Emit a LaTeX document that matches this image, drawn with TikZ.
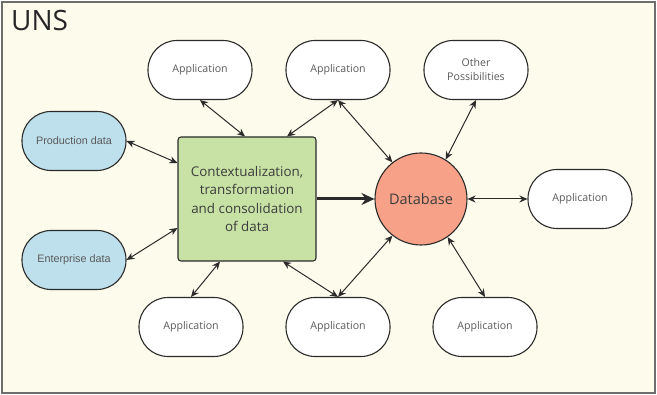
\documentclass[tikz,border=0pt]{standalone}
\usepackage{fontspec}
\setmainfont{Open Sans}
\newfontfamily\arialish{Liberation Sans}
\usetikzlibrary{arrows.meta}
\definecolor{bgcream}{HTML}{FDFBEB}
\definecolor{framegray}{HTML}{6E6E6E}
\definecolor{edgedark}{HTML}{2B2B2B}
\definecolor{bluefill}{HTML}{BEE0EC}
\definecolor{greenfill}{HTML}{C8E2A6}
\definecolor{salmon}{HTML}{F7A189}
\definecolor{labelgray}{HTML}{5A5A5A}
\definecolor{labeldark}{HTML}{3C3C3C}
\tikzset{
  pill/.style={draw=edgedark, line width=1.1pt, fill=white, rounded corners=29pt,
    minimum width=104pt, minimum height=59pt, inner sep=0pt, align=center,
    text=labelgray, font=\fontsize{10.6}{14}\selectfont},
  datapill/.style={pill, fill=bluefill, font=\arialish\fontsize{10.8}{13}\selectfont},
  link/.style={draw=edgedark, line width=1pt,
    {Stealth[length=8pt,width=7pt]}-{Stealth[length=8pt,width=7pt]}},
  bigarrow/.style={draw=edgedark, line width=3pt, -{Stealth[length=13pt,width=12pt]}}
}
\begin{document}
\begin{tikzpicture}[x=1pt,y=-1pt]
  % canvas and frame
  \path[fill=white] (0,0) rectangle (657,395);
  \useasboundingbox (0,0) rectangle (657,395);
  \draw[framegray, line width=1.3pt, fill=bgcream] (2,2) rectangle (655,393);
  \node[anchor=north west, inner sep=0pt, text=black!85, font=\fontsize{28}{30}\selectfont] (title) at (11,10) {UNS};

  % central processing block and database
  \node[draw=edgedark, line width=1.1pt, fill=greenfill, rounded corners=3pt,
        minimum width=138pt, minimum height=124pt, inner sep=0pt, align=center,
        text=labeldark, font=\fontsize{13.4}{18.3}\selectfont] (ctx) at (247,199)
        {Contextualization,\\transformation\\and consolidation\\of data};
  \node[draw=edgedark, line width=1.1pt, fill=salmon, circle, minimum size=92pt,
        inner sep=0pt, text=labeldark, font=\fontsize{14.5}{16}\selectfont] (db) at (421,199) {Database};

  % data sources
  \node[datapill] (prod) at (74,141) {Production data};
  \node[datapill] (ent) at (74,260) {Enterprise data};

  % consumers
  \node[pill] (appA) at (200,70) {Application};
  \node[pill] (appB) at (338,70) {Application};
  \node[pill] (other) at (476,70) {Other\\Possibilities};
  \node[pill] (appR) at (580,199) {Application};
  \node[pill] (appC) at (191,327) {Application};
  \node[pill] (appD) at (338,327) {Application};
  \node[pill] (appE) at (485,327) {Application};

  % connections
  \draw[link] (prod.east) -- (ctx.west |- 0,163);
  \draw[link] (ent.east) -- (ctx.west |- 0,228);
  \draw[link] (appA.south) -- (ctx.north -| 245,0);
  \draw[link] (appB.south) -- (ctx.north -| 287,0);
  \draw[link] (appB.south) -- (db.128);
  \draw[link] (other.south) -- (db.58);
  \draw[link] (db.east) -- (appR.west);
  \draw[link] (db.-128) -- (appD.north);
  \draw[link] (db.-55) -- (appE.north);
  \draw[link] (ctx.south -| 220,0) -- (appC.north);
  \draw[link] (ctx.south -| 283,0) -- (appD.north);
  \draw[bigarrow] (ctx.east) -- (db.west);
\end{tikzpicture}
\end{document}
